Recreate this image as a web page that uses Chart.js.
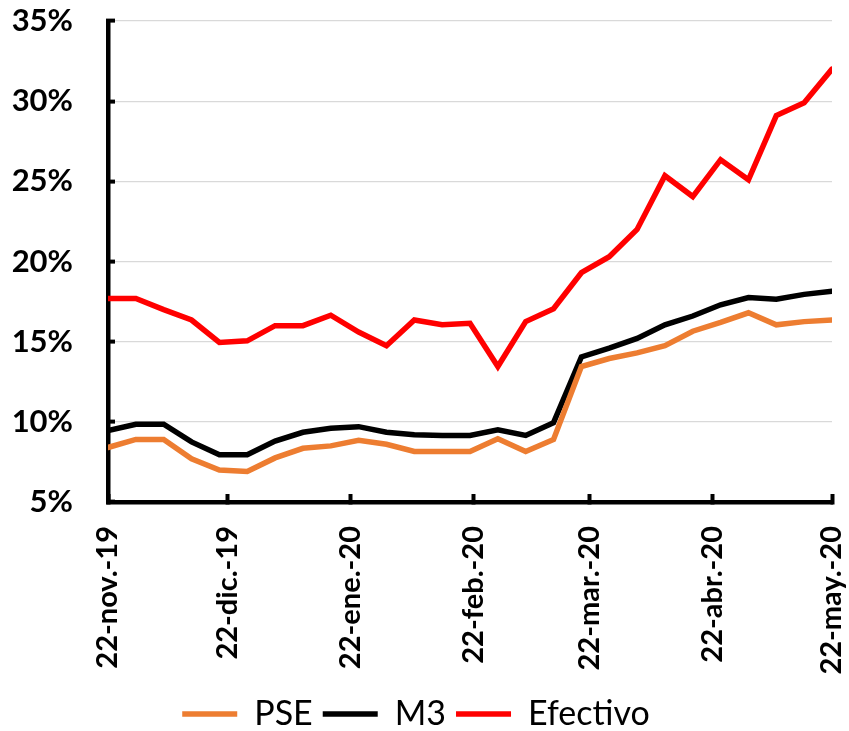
<!DOCTYPE html>
<html>
<head>
<meta charset="utf-8">
<script src="https://cdn.jsdelivr.net/npm/chart.js@4/dist/chart.umd.min.js"></script>
<style>
  html, body { margin: 0; padding: 0; background: #fff; }
  #wrap { width: 849px; height: 731px; position: relative; }
</style>
</head>
<body>
<div id="wrap"><canvas id="chart"></canvas></div>
<script>
// days since 22-nov-19, weekly observations
const days = [0,7,14,21,28,35,42,49,56,63,70,77,84,91,98,105,112,119,126,133,140,147,154,161,168,175,182];
const pse = [8.4,8.9,8.9,7.7,7.0,6.9,7.75,8.35,8.5,8.85,8.6,8.15,8.15,8.15,8.95,8.15,8.9,13.45,13.95,14.3,14.75,15.65,16.2,16.8,16.05,16.25,16.35];
const m3 = [9.45,9.85,9.85,8.75,7.95,7.95,8.8,9.35,9.6,9.7,9.35,9.2,9.15,9.15,9.5,9.15,9.95,14.05,14.6,15.2,16.05,16.6,17.3,17.75,17.65,17.95,18.15];
const efectivo = [17.7,17.7,17.0,16.35,14.95,15.05,16.0,16.0,16.65,15.6,14.75,16.35,16.05,16.15,13.45,16.25,17.05,19.3,20.3,22.0,25.35,24.05,26.35,25.1,29.1,29.9,32.0];

// month ticks (days since 22-nov-19) and their labels
const tickDays = [0,30,61,92,121,152,182];
const tickLabels = ['22-nov.-19','22-dic.-19','22-ene.-20','22-feb.-20','22-mar.-20','22-abr.-20','22-may.-20'];

function pts(arr){ return arr.map((v,i)=>({x: days[i], y: v})); }

function ds(label, color, data){
  return {
    label: label,
    data: pts(data),
    borderColor: color,
    backgroundColor: color,
    borderWidth: 5.5,
    pointRadius: 0,
    tension: 0,
    borderCapStyle: 'round',
    borderJoinStyle: 'miter'
  };
}

const FONT = 'Lato, "Open Sans", sans-serif';

new Chart(document.getElementById('chart'), {
  type: 'line',
  data: {
    datasets: [
      ds('PSE', '#ED7D31', pse),
      ds('M3', '#000000', m3),
      ds('Efectivo', '#FF0000', efectivo)
    ]
  },
  options: {
    responsive: true,
    maintainAspectRatio: false,
    animation: false,
    layout: { padding: { left: 0, right: 17, top: 21, bottom: -10 } },
    plugins: {
      tooltip: { enabled: false },
      legend: {
        position: 'bottom',
        labels: {
          usePointStyle: true,
          pointStyle: 'line',
          pointStyleWidth: 55,
          color: '#000',
          padding: 10,
          font: { family: FONT, size: 34 }
        }
      }
    },
    scales: {
      x: {
        type: 'linear',
        min: 0,
        max: 182,
        afterBuildTicks: (scale) => { scale.ticks = tickDays.map(v => ({ value: v })); },
        afterFit: (scale) => {
          scale.height = 185;
          scale.paddingLeft = 0; scale.paddingRight = 0;
        },
        border: { display: true, color: '#000', width: 4.5 },
        grid: { drawOnChartArea: false, drawTicks: true, tickLength: -8, tickColor: '#000', tickWidth: 4 },
        ticks: {
          autoSkip: false,
          minRotation: 90,
          maxRotation: 90,
          padding: 32,
          color: '#000',
          font: { family: FONT, size: 29, weight: 'bold' },
          callback: (v) => { const i = tickDays.indexOf(v); return i >= 0 ? tickLabels[i] : ''; }
        }
      },
      y: {
        min: 5,
        max: 35,
        afterFit: (scale) => {
          scale.width = 108;
          scale.paddingTop = 0; scale.paddingBottom = 0;
        },
        border: { display: true, color: '#000', width: 4.5 },
        grid: { color: '#d9d9d9', lineWidth: 1.2, drawTicks: true, tickLength: -7, tickColor: '#000', tickWidth: 4 },
        ticks: {
          stepSize: 5,
          padding: 42,
          color: '#000',
          font: { family: FONT, size: 31, weight: 'bold' },
          callback: (v) => v + '%'
        }
      }
    }
  }
});
</script>
</body>
</html>
